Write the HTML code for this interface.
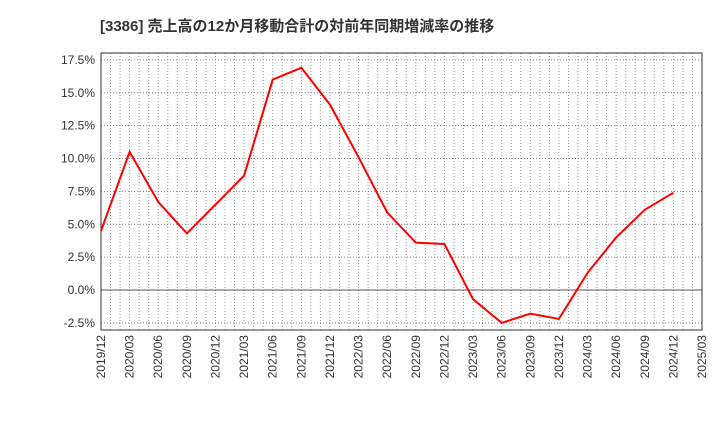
<!DOCTYPE html>
<html><head><meta charset="utf-8"><style>body{margin:0;background:#fff}svg{display:block}text{font-family:"Liberation Sans","Noto Sans CJK JP",sans-serif}</style></head>
<body>
<svg id="c" width="720" height="440">
<text x="100" y="31" font-size="15" font-weight="bold" fill="#333">[3386]  売上高の12か月移動合計の対前年同期増減率の推移</text>
<g id="grid"></g><g id="axes"></g><g id="series"></g>
</svg>
<script>
const categories=["2019/12","2020/03","2020/06","2020/09","2020/12","2021/03","2021/06","2021/09","2021/12","2022/03","2022/06","2022/09","2022/12","2023/03","2023/06","2023/09","2023/12","2024/03","2024/06","2024/09","2024/12","2025/03"];
const values=[4.5,10.5,6.7,4.3,6.5,8.7,16.0,16.9,14.1,10.1,5.9,3.6,3.5,-0.7,-2.5,-1.8,-2.2,1.3,4.0,6.1,7.4];
const yTicks=[-2.5,0,2.5,5,7.5,10,12.5,15,17.5];
const NS="http://www.w3.org/2000/svg";
const L=101,R=702,T=53,B=330;
const x=i=>L+(R-L)*i/(categories.length-1);
const y=v=>290-v*13.15;
function mk(tag,attrs,parent){const e=document.createElementNS(NS,tag);for(const k in attrs)e.setAttribute(k,attrs[k]);document.getElementById(parent).appendChild(e);return e;}
// monthly vertical grid
for(let m=1;m<(categories.length-1)*3;m++){const xx=L+(R-L)*m/((categories.length-1)*3);
const g=mk('line',{x1:xx,x2:xx,y1:T,y2:B,stroke:'#999','stroke-dasharray':'1,2','stroke-width':1},'grid');

}
yTicks.forEach(v=>{const g=mk('line',{x1:L,x2:R,y1:y(v),y2:y(v),stroke:v===0?'#555':'#888','stroke-dasharray':v===0?'none':'1,2','stroke-width':1},'grid');


const t=mk('text',{x:L-6,y:y(v)+4,'text-anchor':'end','font-size':12,fill:'#333'},'axes');t.textContent=v.toFixed(1)+'%';

});
const fr=mk('rect',{x:L,y:T,width:R-L,height:B-T,fill:'none',stroke:'#333','stroke-width':1},'axes');


categories.forEach((c,i)=>{const t=mk('text',{transform:`translate(${x(i)+4},${B+5}) rotate(-90)`,'text-anchor':'end','font-size':12,fill:'#333'},'axes');t.textContent=c;

});
const p=mk('polyline',{points:values.map((v,i)=>x(i)+','+y(v)).join(' '),fill:'none',stroke:'#f00','stroke-width':2},'series');


</script>
</body></html>
